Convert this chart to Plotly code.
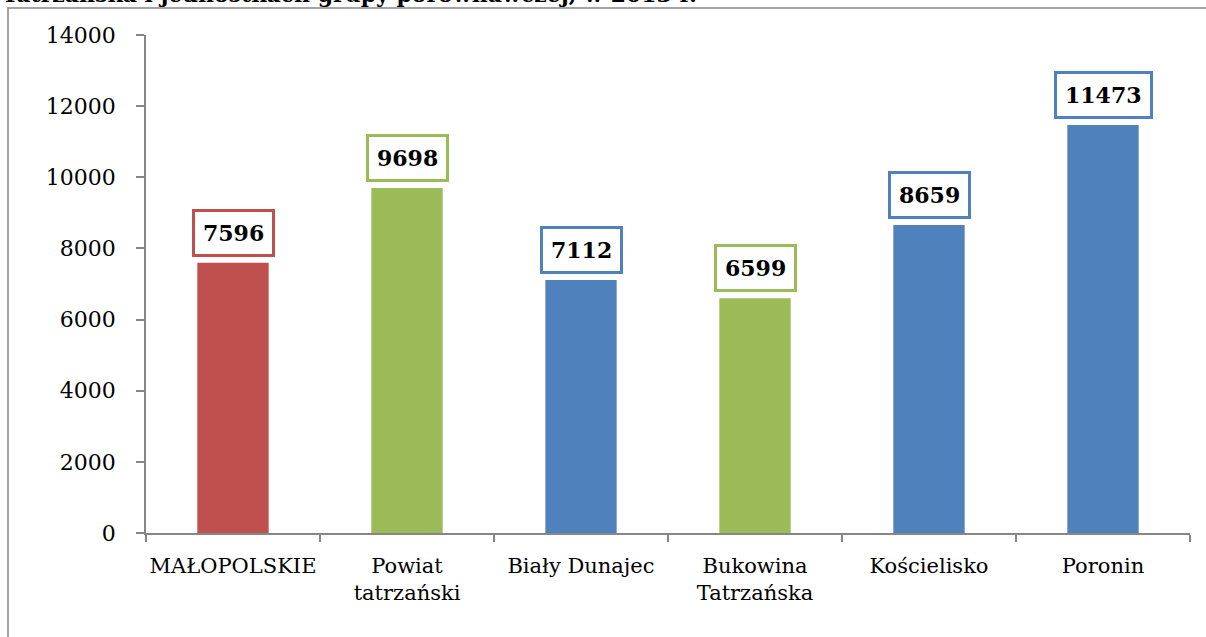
import plotly.graph_objects as go

categories = ["MAŁOPOLSKIE", "Powiat<br>tatrzański", "Biały Dunajec",
              "Bukowina<br>Tatrzańska", "Kościelisko", "Poronin"]
values = [7596, 9698, 7112, 6599, 8659, 11473]
colors = ["#C0504D", "#9BBB59", "#4F81BD", "#9BBB59", "#4F81BD", "#4F81BD"]
y_ticks = [0, 2000, 4000, 6000, 8000, 10000, 12000, 14000]
y_tick_labels = [str(v) for v in y_ticks]
title_text = "Tatrzańska i jednostkach grupy porównawczej, w 2013 r."

W, H = 1206, 637
L, R, T, B = 146, 16, 35, 104
pw, ph = W - L - R, H - T - B

def px_x(px):
    return (px - L) / pw

def px_y(py):
    return (H - B - py) / ph

FONT = "DejaVu Serif"

fig = go.Figure(go.Bar(
    x=categories, y=values, marker=dict(color=colors, line=dict(width=0)),
    width=0.41, hoverinfo="skip"))

annotations = []
for c, v, col in zip(categories, values, colors):
    annotations.append(dict(
        x=c, y=v, xref="x", yref="y", text=f"<b>{v}</b>",
        showarrow=False, yanchor="bottom", yshift=6,
        font=dict(family=FONT, size=22, color="black"),
        bgcolor="white", bordercolor=col, borderwidth=3, borderpad=8))

annotations.append(dict(
    x=px_x(0), y=px_y(9), xref="paper", yref="paper", xanchor="left",
    yanchor="bottom", showarrow=False, text=f"<b>{title_text}</b>",
    font=dict(family=FONT, size=22, color="black")))

fig.update_layout(
    width=W, height=H, margin=dict(l=L, r=R, t=T, b=B),
    paper_bgcolor="white", plot_bgcolor="white", showlegend=False,
    bargap=0.59, annotations=annotations,
    shapes=[dict(type="rect", xref="paper", yref="paper",
                 x0=px_x(8), x1=px_x(W + 20), y0=px_y(H + 20), y1=px_y(8),
                 line=dict(color="#868686", width=1.5), layer="below")],
    xaxis=dict(showline=True, linecolor="#868686", linewidth=1.5,
               ticks="outside", tickson="boundaries", ticklen=7,
               tickcolor="#868686", tickwidth=1.5, showgrid=False,
               ticklabelstandoff=13, tickangle=0, automargin=False,
               tickfont=dict(family=FONT, size=21, color="black")),
    yaxis=dict(range=[0, 14000], tickvals=y_ticks, ticktext=y_tick_labels,
               showline=True, linecolor="#868686", linewidth=1.5,
               ticks="outside", ticklen=8, tickcolor="#868686",
               tickwidth=1.5, showgrid=False, zeroline=False,
               ticklabelstandoff=16, automargin=False,
               tickfont=dict(family=FONT, size=22, color="black")),
)

fig.write_html("out.html")
